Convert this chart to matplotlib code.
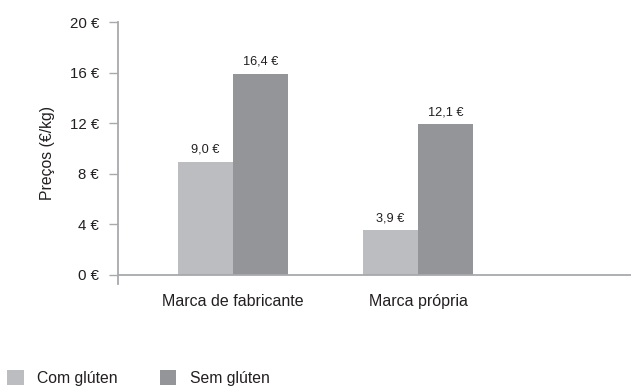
import matplotlib
matplotlib.use("Agg")
import matplotlib.pyplot as plt
from matplotlib.patches import Patch
import numpy as np

categories = ["Marca de fabricante", "Marca própria"]
series_names = ["Com glúten", "Sem glúten"]
com_gluten = [8.9, 3.5]
sem_gluten = [15.9, 11.9]
com_labels = ["9,0 €", "3,9 €"]
sem_labels = ["16,4 €", "12,1 €"]
yticks = [0, 4, 8, 12, 16, 20]
ytick_labels = ["0 €", "4 €", "8 €", "12 €", "16 €", "20 €"]

c_light = "#bcbdc0"
c_dark = "#939598"
axis_col = "#a7a9ac"
text_col = "#231f20"

plt.rcParams['font.family'] = ['Liberation Sans', 'DejaVu Sans']

fig = plt.figure(figsize=(6.31, 3.89), dpi=100)
ax = fig.add_axes([118/631, 1 - 284/389, 1 - 118/631, (284 - 22)/389])

x = np.arange(len(categories))
w = 0.297
b1 = ax.bar(x - w/2, com_gluten, w, color=c_light, zorder=2)
b2 = ax.bar(x + w/2, sem_gluten, w, color=c_dark, zorder=2)

for rect, lab in zip(b1, com_labels):
    ax.annotate(lab, (rect.get_x() + rect.get_width()/2, rect.get_height()),
                xytext=(0, 4.5), textcoords="offset points", ha="center", va="bottom",
                fontsize=9.2, color=text_col)
for rect, lab in zip(b2, sem_labels):
    ax.annotate(lab, (rect.get_x() + rect.get_width()/2, rect.get_height()),
                xytext=(0, 4.5), textcoords="offset points", ha="center", va="bottom",
                fontsize=9.2, color=text_col)

ax.set_xlim(-0.622, 2.151)
ax.set_ylim(-0.75, 20)
ax.axhline(0, color=axis_col, lw=1.3, zorder=3)
for s in ["top", "right", "bottom"]:
    ax.spines[s].set_visible(False)
ax.spines["left"].set_color(axis_col)
ax.spines["left"].set_linewidth(1.3)
ax.spines["left"].set_bounds(-0.75, 20)

ax.set_yticks(yticks)
ax.set_yticklabels(ytick_labels)
ax.tick_params(axis="y", length=6.5, width=1.0, color=axis_col, pad=7,
               labelsize=10.8, labelcolor=text_col)
ax.set_xticks(x)
ax.set_xticklabels(categories)
ax.tick_params(axis="x", length=0, pad=7, labelsize=11.5, labelcolor=text_col)
ax.set_ylabel("Preços (€/kg)", fontsize=11.3, color=text_col, labelpad=11)

handles = [Patch(facecolor=c_light, edgecolor="none"), Patch(facecolor=c_dark, edgecolor="none")]
fig.legend(handles, series_names, loc="lower left", bbox_to_anchor=(-0.011, -0.028),
           ncol=2, frameon=False, fontsize=11.3, handlelength=1.05, handleheight=1.05,
           handletextpad=0.85, columnspacing=2.7, labelcolor=text_col)

fig.savefig("out.png", dpi=100)
